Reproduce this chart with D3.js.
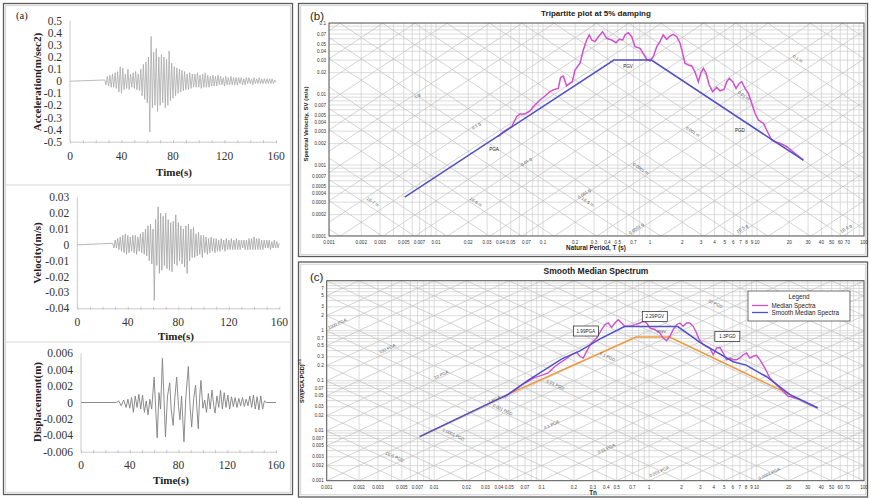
<!DOCTYPE html>
<html><head><meta charset="utf-8">
<script src="https://cdn.jsdelivr.net/npm/d3@7/dist/d3.min.js"></script>
<style>html,body{margin:0;padding:0;background:#fff;}svg{display:block;}</style>
</head><body>
<svg id="chart" width="871" height="498" xmlns="http://www.w3.org/2000/svg"></svg>
<script>
// ================= DATA : panel (a) ground motion =================
const timeTicks = [0, 40, 80, 120, 160];
const accelTicks = [0.5,0.4,0.3,0.2,0.1,0,-0.1,-0.2,-0.3,-0.4,-0.5];
const velTicks = [0.03,0.02,0.01,0,-0.01,-0.02,-0.03,-0.04];
const dispTicks = [0.006,0.004,0.002,0,-0.002,-0.004,-0.006];

// alternating peak values (one per second)
const accelOnset = 27, accelStep = 1;
const accelPeaks = [
 0.01,-0.03,0.04,-0.04,0.05,-0.05,0.06,-0.05,0.07,-0.06,
 0.08,-0.09,0.12,-0.10,0.11,-0.07,0.06,-0.06,0.10,-0.07,
 0.06,-0.05,0.07,-0.06,0.08,-0.07,0.06,-0.08,0.10,-0.12,
 0.14,-0.15,0.16,-0.18,0.20,-0.42,0.37,-0.22,0.24,-0.20,
 0.27,-0.25,0.20,-0.20,0.22,-0.18,0.20,-0.22,0.18,-0.20,
 0.25,-0.16,0.15,-0.14,0.12,-0.12,0.11,-0.10,0.10,-0.09,
 0.09,-0.08,0.08,-0.07,0.06,-0.07,0.07,-0.06,0.06,-0.05,
 0.06,-0.05,0.07,-0.05,0.05,-0.06,0.06,-0.05,0.07,-0.05,
 0.05,-0.05,0.04,-0.04,0.05,-0.04,0.04,-0.04,0.05,-0.03,
 0.04,-0.03,0.03,-0.04,0.04,-0.03,0.03,-0.03,0.04,-0.03,
 0.03,-0.03,0.03,-0.03,0.03,-0.02,0.03,-0.03,0.02,-0.03,
 0.03,-0.02,0.03,-0.02,0.02,-0.03,0.03,-0.02,0.02,-0.02,
 0.03,-0.02,0.02,-0.02,0.02,-0.02,0.02,-0.02,0.02,-0.02,
 0.02,-0.02,0.01,-0.01];
const velOnset = 28, velStep = 1;
const velPeaks = [
 0.001,-0.002,0.003,-0.002,0.004,-0.003,0.005,-0.004,0.006,-0.005,
 0.007,-0.006,0.006,-0.005,0.005,-0.004,0.006,-0.005,0.006,-0.006,
 0.005,-0.004,0.007,-0.005,0.008,-0.006,0.010,-0.007,0.012,-0.010,
 0.013,-0.012,0.010,-0.035,0.016,-0.013,0.024,-0.018,0.020,-0.016,
 0.018,-0.013,0.020,-0.015,0.016,-0.016,0.014,-0.017,0.015,-0.012,
 0.019,-0.013,0.014,-0.010,0.012,-0.012,0.010,-0.014,0.012,-0.018,
 0.013,-0.010,0.010,-0.008,0.011,-0.008,0.007,-0.007,0.008,-0.006,
 0.006,-0.008,0.006,-0.005,0.005,-0.006,0.004,-0.005,0.005,-0.004,
 0.004,-0.005,0.004,-0.004,0.003,-0.004,0.004,-0.003,0.003,-0.004,
 0.004,-0.003,0.003,-0.003,0.004,-0.003,0.003,-0.003,0.004,-0.003,
 0.003,-0.003,0.003,-0.002,0.003,-0.003,0.003,-0.003,0.004,-0.003,
 0.004,-0.003,0.005,-0.003,0.004,-0.003,0.004,-0.003,0.003,-0.003,
 0.003,-0.002,0.003,-0.002,0.003,-0.003,0.002,-0.002,0.003,-0.002,
 0.002,-0.002,0.001];
// [time (s), displacement (m)]
const dispPoints = [
 [0,0],[29,0],[31,0.0002],[33,-0.0004],[35,0.0003],[37,-0.0006],[38.5,0.0004],[40,-0.0007],
 [41.5,0.0006],[43,-0.0012],[44.5,0.0008],[46,-0.0006],[47.5,0.001],[49,-0.0008],[50.5,0.0009],
 [52,-0.0012],[53.5,0.0002],[55,-0.0015],[56.5,0.0004],[58,-0.0008],[60,0.0031],[62.5,-0.0043],
 [64,0.0012],[65.3,-0.0008],[66.8,0.0054],[69.3,-0.0042],[71,0.0008],[72.8,0.0024],[74,-0.0008],
 [75.6,-0.0028],[77,0.0006],[78.5,0.0031],[80,-0.0005],[81.2,-0.0021],[82.5,0.0008],[84.5,-0.0048],
 [86,0.0006],[88.1,0.0044],[89.5,-0.0005],[90.8,-0.003],[92.5,0.0005],[94,0.0021],[95,-0.0005],
 [96.2,-0.0032],[97.3,0.0005],[98.4,0.0027],[100,-0.0007],[101.5,0.0003],[103,-0.0012],[104.5,0.0011],
 [106,-0.0008],[107.5,0.0015],[109,-0.0005],[110,-0.0013],[111.5,0.0008],[113,-0.0006],[114.5,0.0015],
 [116,-0.0008],[117.5,0.0012],[119,-0.0006],[120.5,0.0009],[122,-0.0008],[123.5,0.0007],[125,-0.0005],
 [126.5,0.0006],[128,-0.0006],[129.5,0.0005],[131,-0.0004],[132.5,0.0006],[134,-0.0005],[135.5,0.0004],
 [137,-0.0004],[138.5,0.0008],[140,-0.0006],[141.5,0.0009],[143,-0.0008],[144.5,0.0007],[146,-0.0009],
 [147.5,0.0008],[149,-0.0008],[150.5,0.0002],[152,0],[160,0]];

// ================= DATA : panel (b) tripartite =================
const periodTickLabels = ["0.001","0.002","0.003","0.005","0.007","0.01","0.02","0.03","0.04","0.05","0.07",
 "0.1","0.2","0.3","0.4","0.5","0.7","1","2","3","4","5","6","7","8","9","10","20","30","40","50","60","70","100"];
const svTickLabels = ["0.1","0.07","0.05","0.04","0.03","0.02","0.01","0.007","0.005","0.004","0.003","0.002",
 "0.001","0.0007","0.0005","0.0004","0.0003","0.0002","0.0001"];
// [T (s), SV (m/s)]
const medianSpectrumB = [
 [0.0382,0.00251],[0.0426,0.00294],[0.0509,0.00346],[0.0567,0.00479],[0.0610,0.00523],[0.0679,0.00523],
 [0.0757,0.00577],[0.0811,0.00662],[0.0938,0.00823],[0.1045,0.00937],[0.116,0.0108],[0.128,0.0116],
 [0.139,0.0120],[0.146,0.0172],[0.155,0.0179],[0.166,0.0130],[0.179,0.0142],[0.188,0.0149],[0.199,0.0218],
 [0.222,0.0272],[0.238,0.0417],[0.256,0.0576],[0.271,0.0678],[0.285,0.0576],[0.306,0.0546],[0.329,0.0641],
 [0.361,0.0754],[0.393,0.0609],[0.438,0.0576],[0.481,0.0528],[0.516,0.0589],[0.556,0.0576],[0.583,0.0678],
 [0.627,0.0730],[0.675,0.0641],[0.724,0.0464],[0.807,0.0440],[0.865,0.0374],[0.931,0.0308],[1.0,0.0292],
 [1.074,0.0335],[1.155,0.0464],[1.24,0.0546],[1.33,0.0678],[1.43,0.0589],[1.54,0.0656],[1.65,0.0693],
 [1.78,0.0641],[1.91,0.0518],[2.02,0.0374],[2.12,0.0271],[2.28,0.0256],[2.45,0.0248],[2.63,0.0206],
 [2.83,0.0149],[2.98,0.0196],[3.15,0.0230],[3.34,0.0196],[3.58,0.0134],[3.85,0.0108],[4.20,0.0124],
 [4.51,0.0111],[4.92,0.0116],[5.21,0.0149],[5.51,0.0166],[5.93,0.0149],[6.37,0.0120],[6.84,0.0142],
 [7.20,0.0149],[7.73,0.0120],[8.30,0.0102],[8.92,0.0074],[9.58,0.00535],[10.3,0.0043],[11.5,0.00387],
 [12.3,0.00311],[13.7,0.00225],[14.7,0.00213],[16.4,0.00202],[19.0,0.00181],[22.6,0.00146],[27.1,0.00117]];
const smoothSpectrumB = [[0.0051,0.000354],[0.46,0.0301],[1.03,0.0301],[14.7,0.00213],[27.1,0.00117]];
const accelGridG = [-7,1];   // decades of g for constant-acceleration lines
const dispGridM = [-8,0];    // decades of m for constant-displacement lines
const accelLabelsB = [["1 g",0.00679,0.00908],["0.1 g",0.0242,0.00343],["0.01 g",0.0708,0.00107],
 ["0.001 g",0.247,0.000378],["0.0001 g",0.757,0.000122],["1E-5 g",7.4,0.000122],["1E-6 g",69,0.000122]];
const dispLabelsB = [["0.1 m",23.7,0.0301],["0.01 m",7.4,0.00908],["0.001 m",2.47,0.00283],
 ["0.0001 m",0.807,0.00085],["1E-5 m",0.258,0.00029],["1E-6 m",0.0231,0.00029],["1E-7 m",0.00252,0.00029]];
const peakLabelsB = [["PGA",0.0349,0.00157],["PGV",0.623,0.0232],["PGD",6.93,0.00292]];

// ================= DATA : panel (c) normalised =================
const normTickLabels = ["7","5","3","2","1","0.7","0.5","0.3","0.2","0.1","0.07","0.05","0.03","0.02","0.01",
 "0.007","0.005","0.003","0.002","0.001"];
// [Tn (s), SV/(PGA.PGD)^0.5]
const medianSpectrumC = [
 [0.045,0.047],[0.0487,0.0532],[0.058,0.068],[0.0655,0.083],[0.0750,0.0973],[0.0866,0.117],[0.100,0.128],
 [0.1152,0.143],[0.1282,0.179],[0.1427,0.216],[0.1647,0.263],[0.1901,0.331],[0.2117,0.370],[0.2272,0.308],
 [0.2438,0.284],[0.2622,0.387],[0.2918,0.568],[0.3248,0.714],[0.3615,1.047],[0.3880,1.318],[0.4164,1.426],
 [0.4479,1.169],[0.4807,1.426],[0.5160,1.660],[0.5548,1.426],[0.5955,1.225],[0.6629,1.225],[0.7379,1.318],
 [0.8212,1.426],[0.8812,1.542],[0.9478,1.426],[1.017,1.132],[1.132,1.047],[1.260,0.899],[1.353,0.714],
 [1.455,0.631],[1.562,0.773],[1.676,1.047],[1.803,1.318],[1.934,1.426],[2.076,1.225],[2.233,1.426],
 [2.396,1.426],[2.572,1.225],[2.766,0.899],[2.924,0.661],[3.147,0.542],[3.377,0.488],[3.678,0.451],
 [3.948,0.331],[4.246,0.451],[4.557,0.466],[4.891,0.358],[5.260,0.263],[5.645,0.284],[6.059,0.263],
 [6.516,0.263],[6.994,0.284],[7.506,0.331],[8.072,0.358],[8.664,0.284],[9.299,0.308],[10.0,0.322],
 [10.73,0.263],[11.95,0.179],[13.30,0.113],[15.35,0.0832],[17.68,0.0614],[19.68,0.0488],[21.90,0.0466],
 [25.28,0.0417],[31.32,0.0331],[37.41,0.0284]];
const smoothSpectrumC = [[0.00733,0.00759],[0.0487,0.0532],[0.0741,0.1],[0.153,0.27],[0.225,0.39],[0.347,0.68],
 [0.59,1.21],[1.85,1.21],[2.95,0.59],[6.06,0.24],[8.0,0.205],[12.4,0.12],[20.3,0.0532],[36.9,0.0288]];
const boundSpectrumC = [[0.00733,0.00759],[0.0487,0.0532],[0.76,0.748],[1.55,0.748],[20.3,0.0532]];
const pgaPgdRatioRoot = 6.3;     // sqrt(PGA/PGD) used for the normalised grid
const accelGridPGA = [-6,4], dispGridPGD = [-7,3];
const accelLabelsC = [["1000 PGA",0.00127,1.30],["100 PGA",0.00372,0.411],["10 PGA",0.0118,0.124],
 ["1 PGA",0.0368,0.0393],["0.1 PGA",0.125,0.0124],["0.01 PGA",0.405,0.00411],["0.001 PGA",1.26,0.00143],
 ["0.0001 PGA",13.3,0.0013]];
const dispLabelsC = [["1E-5 PGD",0.00423,0.00284],["0.0001 PGD",0.01496,0.00783],["0.001 PGD",0.0428,0.0248],
 ["0.01 PGD",0.133,0.0783],["0.1 PGD",0.405,0.284],["10 PGD",4.09,3.27]];
const factorBoxesC = [["1.99PGA",0.258,0.986],["2.29PGV",1.13,1.92],["1.3PGD",5.35,0.766]];
const smallLabelsC = [["PGV",1.31,0.9]];
const legendItems = [["Median Spectra","#d24fcf"],["Smooth Median Spectra","#5050c8"]];

// ================= RENDER =================
const svg = d3.select('#chart');
const defs = svg.append('defs');
const SERIF = '"Liberation Serif","Times New Roman",serif';
const SANS = '"Liberation Sans",Arial,sans-serif';
const MAG = '#d24fcf', BLUE = '#5050c8', ORANGE = '#ee9a3c';

function frame(x,y,w,h){
  svg.append('rect').attr('x',x).attr('y',y).attr('width',w).attr('height',h)
    .attr('fill','none').attr('stroke','#5a5a5a').attr('stroke-width',1.3);
  svg.append('rect').attr('x',x+2.2).attr('y',y+2.2).attr('width',w-4.4).attr('height',h-4.4)
    .attr('fill','none').attr('stroke','#c9c9c9').attr('stroke-width',0.8);
}
frame(3.5,3.5,289,491);
frame(298.5,3.5,569,253);
frame(298.5,262,569,235);
[185,342].forEach(v=>svg.append('line').attr('x1',6).attr('x2',290).attr('y1',v).attr('y2',v)
  .attr('stroke','#d6d6d6').attr('stroke-width',1));

svg.append('text').attr('x',16).attr('y',19).text('(a)')
  .attr('font-family',SERIF).attr('font-size',10.5).attr('fill','#222');

function tracePlot(c){
  const x = d3.scaleLinear().domain([0,160]).range([c.x0,c.x1]);
  const y = d3.scaleLinear().domain(c.yDom).range([c.yB,c.yT]);
  const g = svg.append('g');
  g.append('line').attr('x1',x(0)).attr('x2',x(0)).attr('y1',y(c.yDom[1])).attr('y2',y(c.yDom[0]))
    .attr('stroke','#c4c4c4').attr('stroke-width',0.9);
  const xa = g.append('g').attr('transform',`translate(0,${y(c.yDom[0])})`)
    .call(d3.axisBottom(x).tickValues(d3.range(0,161,10)).tickSizeInner(3).tickSizeOuter(0).tickFormat(''));
  xa.select('.domain').attr('stroke','#c4c4c4').attr('stroke-width',0.9);
  xa.selectAll('.tick line').attr('stroke','#c4c4c4').attr('transform','translate(0,-1.5)');
  g.append('path').datum(c.pts)
    .attr('d',d3.line().x(d=>x(d[0])).y(d=>y(d[1])))
    .attr('fill','none').attr('stroke',c.color).attr('stroke-width',c.sw).attr('stroke-linejoin','round');
  g.selectAll('text.xt').data(timeTicks).join('text').attr('class','xt')
    .attr('x',d=>x(d)).attr('y',y(c.yDom[0])+c.xLabOff).attr('text-anchor','middle')
    .attr('font-family',SERIF).attr('font-size',11.5).attr('fill','#333').text(d=>d);
  g.selectAll('text.yt').data(c.ticks).join('text').attr('class','yt')
    .attr('x',x(0)-8).attr('y',d=>y(d)+4).attr('text-anchor','end')
    .attr('font-family',SERIF).attr('font-size',11.5).attr('fill','#333').text(d=>d);
  g.append('text').attr('transform',`translate(41,${c.titleY}) rotate(-90)`).attr('text-anchor','middle')
    .attr('font-family',SERIF).attr('font-size',11).attr('font-weight','bold').attr('fill','#222').text(c.title);
  g.append('text').attr('x',c.tX).attr('y',c.tY).attr('text-anchor','middle')
    .attr('font-family',SERIF).attr('font-size',11).attr('font-weight','bold').attr('fill','#222').text('Time(s)');
}
const seriesPts = (t0,dt,vals)=>[[0,0]].concat(vals.map((v,i)=>[t0+i*dt,v]));
tracePlot({x0:70,x1:276,yT:20.7,yB:141.7,yDom:[-0.5,0.5],ticks:accelTicks,pts:seriesPts(accelOnset,accelStep,accelPeaks),
  color:'#a9a9a9',sw:0.8,xLabOff:18.5,title:'Acceleration(m/sec2)',titleY:82,tX:174,tY:175.5});
tracePlot({x0:77.3,x1:279.3,yT:197.3,yB:308.3,yDom:[-0.04,0.03],ticks:velTicks,pts:seriesPts(velOnset,velStep,velPeaks),
  color:'#a3a3a3',sw:0.8,xLabOff:17.5,title:'Velocity(m/s)',titleY:253,tX:176,tY:340});
tracePlot({x0:81,x1:276,yT:353.3,yB:451.7,yDom:[-0.006,0.006],ticks:dispTicks,pts:dispPoints,
  color:'#808080',sw:0.9,xLabOff:17.5,title:'Displacement(m)',titleY:402,tX:171,tY:484});

// ---------- log-log tripartite panels ----------
function logPanel(c){
  const x = d3.scaleLog().domain([0.001,100]).range([c.l,c.r]);
  const y = d3.scaleLog().domain(c.yDom).range([c.b,c.t]);
  const g = svg.append('g');
  defs.append('clipPath').attr('id','clip'+c.name).append('rect')
    .attr('x',c.l).attr('y',c.t).attr('width',c.r-c.l).attr('height',c.b-c.t);
  const gg = g.append('g').attr('clip-path',`url(#clip${c.name})`);
  const minor = (lo,hi)=>{const a=[];for(let e=lo;e<hi;e++)for(let k=1;k<10;k++)a.push(+(k+'e'+e));a.push(+('1e'+hi));return a;};
  gg.selectAll('line.v').data(minor(-3,2)).join('line').attr('class','v')
    .attr('x1',d=>x(d)).attr('x2',d=>x(d)).attr('y1',c.t).attr('y2',c.b)
    .attr('stroke','#cdcdcd').attr('stroke-width',0.7);
  gg.selectAll('line.h').data(minor(c.yExp[0],c.yExp[1])).join('line').attr('class','h')
    .attr('y1',d=>y(d)).attr('y2',d=>y(d)).attr('x1',c.l).attr('x2',c.r)
    .attr('stroke','#cdcdcd').attr('stroke-width',0.7);
  const diag = (r)=>{const a=[];for(let e=r[0];e<=r[1];e++)for(const k of [1,2,5])a.push(+(k+'e'+e));return a;};
  const ln = d3.line().x(d=>x(d[0])).y(d=>y(d[1]));
  gg.selectAll('path.up').data(diag(c.upRange)).join('path').attr('class','up')
    .attr('d',v=>ln([[1e-4,c.up(v,1e-4)],[1e3,c.up(v,1e3)]]))
    .attr('stroke','#c2c2c2').attr('stroke-width',0.7).attr('fill','none');
  gg.selectAll('path.dn').data(diag(c.dnRange)).join('path').attr('class','dn')
    .attr('d',v=>ln([[1e-4,c.dn(v,1e-4)],[1e3,c.dn(v,1e3)]]))
    .attr('stroke','#c2c2c2').attr('stroke-width',0.7).attr('fill','none');
  g.append('rect').attr('x',c.l).attr('y',c.t).attr('width',c.r-c.l).attr('height',c.b-c.t)
    .attr('fill','none').attr('stroke','#555').attr('stroke-width',1);
  g.selectAll('text.xt').data(periodTickLabels).join('text').attr('class','xt')
    .attr('x',d=>x(+d)).attr('y',c.b+8).attr('text-anchor','middle')
    .attr('font-family',SANS).attr('font-size',4.6).attr('fill','#333').text(d=>d);
  g.selectAll('text.yt').data(c.yLabels).join('text').attr('class','yt')
    .attr('x',c.l-3).attr('y',d=>y(+d)+1.6).attr('text-anchor','end')
    .attr('font-family',SANS).attr('font-size',4.6).attr('fill','#333').text(d=>d);
  const angUp = Math.atan2(y(c.up(1,10))-y(c.up(1,1)), x(10)-x(1))*180/Math.PI;
  const angDn = Math.atan2(y(c.dn(1,10))-y(c.dn(1,1)), x(10)-x(1))*180/Math.PI;
  const lab = (arr,ang)=>g.append('g').selectAll('text').data(arr).join('text')
    .attr('transform',d=>`translate(${x(d[1])},${y(d[2])}) rotate(${ang})`).attr('text-anchor','middle')
    .attr('font-family',SANS).attr('font-size',4.3).attr('fill','#555').text(d=>d[0]);
  lab(c.upLabels,angUp); lab(c.dnLabels,angDn);
  return {x,y,g,gg,ln};
}

// panel (b)
const G = 9.81;
const pb = logPanel({name:'b',l:329,r:864,t:23,b:236,yDom:[0.0001,0.1],yExp:[-4,-1],yLabels:svTickLabels,
  up:(a,T)=>a*G*T/(2*Math.PI), dn:(d,T)=>2*Math.PI*d/T, upRange:accelGridG, dnRange:dispGridM,
  upLabels:accelLabelsB, dnLabels:dispLabelsB});
pb.gg.append('path').datum(medianSpectrumB).attr('d',pb.ln).attr('fill','none').attr('stroke',MAG).attr('stroke-width',1.5);
pb.gg.append('path').datum(smoothSpectrumB).attr('d',pb.ln).attr('fill','none').attr('stroke',BLUE).attr('stroke-width',1.5);
pb.g.selectAll('text.pk').data(peakLabelsB).join('text').attr('class','pk')
  .attr('x',d=>pb.x(d[1])).attr('y',d=>pb.y(d[2])).attr('text-anchor','middle')
  .attr('font-family',SANS).attr('font-size',4.6).attr('fill','#222').text(d=>d[0]);
svg.append('text').attr('x',596).attr('y',15.5).attr('text-anchor','middle').attr('font-family',SANS)
  .attr('font-size',8).attr('font-weight','bold').attr('fill','#222').text('Tripartite plot at 5% damping');
svg.append('text').attr('x',596).attr('y',250).attr('text-anchor','middle').attr('font-family',SANS)
  .attr('font-size',6.3).attr('font-weight','bold').attr('fill','#222').text('Natural Period, T (s)');
svg.append('text').attr('transform','translate(307.8,124) rotate(-90)').attr('text-anchor','middle').attr('font-family',SANS)
  .attr('font-size',6).attr('font-weight','bold').attr('fill','#222').text('Spectral Velocity, SV (m/s)');
svg.append('text').attr('x',310).attr('y',19.5).attr('font-family',SANS).attr('font-size',11.5).attr('fill','#222').text('(b)');

// panel (c)
const kC = pgaPgdRatioRoot/(2*Math.PI);
const pc = logPanel({name:'c',l:326.7,r:864,t:280.7,b:480.7,yDom:[0.001,10],yExp:[-3,1],yLabels:normTickLabels,
  up:(a,T)=>a*T*kC, dn:(d,T)=>d/(T*kC), upRange:accelGridPGA, dnRange:dispGridPGD,
  upLabels:accelLabelsC, dnLabels:dispLabelsC});
pc.gg.append('path').datum(boundSpectrumC).attr('d',pc.ln).attr('fill','none').attr('stroke',ORANGE).attr('stroke-width',1.5);
pc.gg.append('path').datum(medianSpectrumC).attr('d',pc.ln).attr('fill','none').attr('stroke',MAG).attr('stroke-width',1.4);
pc.gg.append('path').datum(smoothSpectrumC).attr('d',pc.ln).attr('fill','none').attr('stroke',BLUE).attr('stroke-width',1.5);
const fb = pc.g.selectAll('g.fb').data(factorBoxesC).join('g').attr('class','fb')
  .attr('transform',d=>`translate(${pc.x(d[1])},${pc.y(d[2])})`);
fb.append('rect').attr('x',-12.5).attr('y',-5).attr('width',25).attr('height',10)
  .attr('fill','#fff').attr('stroke','#222').attr('stroke-width',0.7);
fb.append('text').attr('y',1.7).attr('text-anchor','middle').attr('font-family',SANS).attr('font-size',4.6)
  .attr('fill','#222').text(d=>d[0]);
pc.g.selectAll('text.sl').data(smallLabelsC).join('text').attr('class','sl')
  .attr('x',d=>pc.x(d[1])).attr('y',d=>pc.y(d[2])).attr('text-anchor','middle')
  .attr('font-family',SANS).attr('font-size',4.3).attr('fill','#444').text(d=>d[0]);
// legend
const lg = svg.append('g').attr('transform','translate(748,291)');
lg.append('rect').attr('width',102).attr('height',30).attr('fill','#fff').attr('stroke','#333').attr('stroke-width',0.7);
lg.append('text').attr('x',51).attr('y',8).attr('text-anchor','middle').attr('font-family',SANS)
  .attr('font-size',6.3).attr('fill','#222').text('Legend');
const li = lg.selectAll('g.li').data(legendItems).join('g').attr('class','li')
  .attr('transform',(d,i)=>`translate(0,${14.5+i*7})`);
li.append('line').attr('x1',4).attr('x2',20).attr('stroke',d=>d[1]).attr('stroke-width',1.3);
li.append('text').attr('x',23.5).attr('y',2.2).attr('font-family',SANS).attr('font-size',6.3).attr('fill','#222').text(d=>d[0]);

svg.append('text').attr('x',596).attr('y',274).attr('text-anchor','middle').attr('font-family',SANS)
  .attr('font-size',8.5).attr('font-weight','bold').attr('fill','#222').text('Smooth Median Spectrum');
svg.append('text').attr('x',593).attr('y',495).attr('text-anchor','middle').attr('font-family',SANS)
  .attr('font-size',6.3).attr('font-weight','bold').attr('fill','#222').text('Tn');
const yt = svg.append('text').attr('transform','translate(303.5,381) rotate(-90)').attr('text-anchor','middle')
  .attr('font-family',SANS).attr('font-size',5.6).attr('font-weight','bold').attr('fill','#222');
yt.append('tspan').text('SV/(PGA.PGD)');
yt.append('tspan').attr('dy',-2.2).attr('font-size',3.8).text('0.5');
svg.append('text').attr('x',310).attr('y',280.5).attr('font-family',SANS).attr('font-size',11.5).attr('fill','#222').text('(c)');
</script>
</body></html>
